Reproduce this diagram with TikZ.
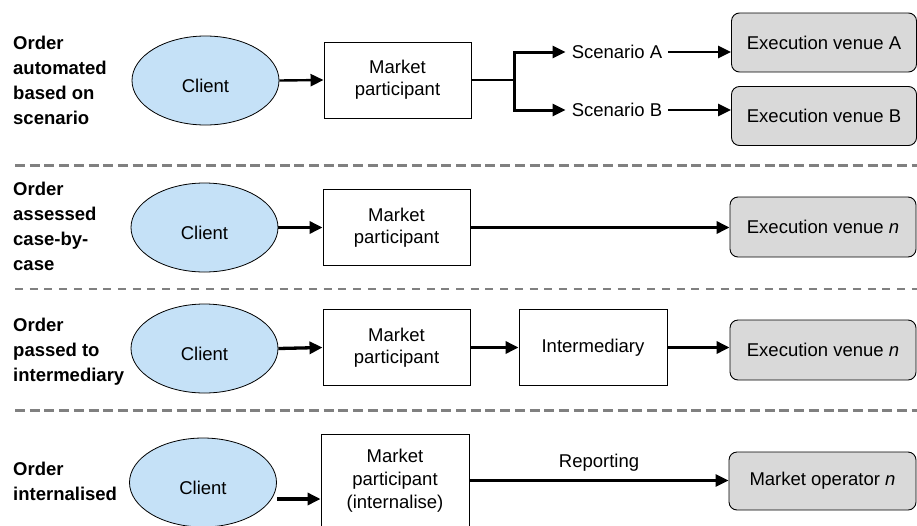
\documentclass[tikz,border=0pt]{standalone}
\usepackage{fontspec}
\setmainfont{Liberation Sans}
\usetikzlibrary{arrows.meta,shapes.geometric}
\definecolor{clientblue}{RGB}{197,225,247}
\definecolor{venuegray}{RGB}{217,217,217}
\definecolor{sepgray}{RGB}{128,128,128}
\begin{document}
\begin{tikzpicture}[x=1pt,y=-1pt,
  every node/.style={font=\fontsize{18.5}{22}\selectfont},
  client/.style={ellipse, draw, line width=0.8pt, fill=clientblue, minimum width=147pt, minimum height=89pt, inner sep=0pt, text height=25pt},
  mpbox/.style={draw, line width=0.9pt, fill=white, minimum width=147pt, minimum height=76pt, align=center, inner sep=0pt},
  venue/.style={draw, line width=0.9pt, fill=venuegray, rounded corners=8pt, minimum width=185pt, minimum height=59pt, inner sep=0pt},
  scen/.style={inner xsep=6pt, inner ysep=2pt},
  rowlabel/.style={anchor=west, align=left, font=\fontsize{18.5}{25}\selectfont\bfseries, inner sep=0pt},
  tip/.style={-{Triangle[length=13pt,width=12pt]}},
  conmid/.style={line width=2.4pt, tip},
  conthick/.style={line width=3.3pt, tip},
  septhick/.style={draw=sepgray, line width=3pt, dash pattern=on 10pt off 4.7pt},
  septhin/.style={draw=sepgray, line width=2pt, dash pattern=on 8pt off 6.7pt},
]
\useasboundingbox (0,0) rectangle (917,525);
\clip (0,0) rectangle (917,525);

% separators
\draw[septhick] (15,165) -- (917,165);
\draw[septhin] (15,288.5) -- (917,288.5);
\draw[septhick] (15,410) -- (917,410);

% row labels
\node[rowlabel] (l1) at (13,80.5) {Order\\automated\\based on\\scenario};
\node[rowlabel] (l2) at (13,226) {Order\\assessed\\case-by-\\case};
\node[rowlabel] (l3) at (13,352) {Order\\passed to\\intermediary};
\node[rowlabel] (l4) at (13,481.5) {Order\\internalised};

% row 1
\node[client] (c1) at (205.5,80.5) {Client};
\node[mpbox] (m1) at (397.5,80) {Market\\participant};
\coordinate (b1) at (514,80);
\node[scen] (sA) at (617,52) {Scenario A};
\node[scen] (sB) at (617,110) {Scenario B};
\node[venue] (vA) at (824,42.5) {Execution venue A};
\node[venue] (vB) at (824,116) {Execution venue B};
\draw[conmid] (c1.east) -- (m1.west);
\draw[line width=2.2pt] (m1.east) -- (b1);
\draw[line width=3pt, tip] (b1) |- (sA.west);
\draw[line width=3pt, tip] (b1) |- (sB.west);
\draw[conmid] (sA.east) -- (sA.east -| vA.west);
\draw[conmid] (sB.east) -- (sB.east -| vB.west);

% row 2
\node[client] (c2) at (204.5,227.5) {Client};
\node[mpbox] (m2) at (396.5,227.5) {Market\\participant};
\node[venue, minimum width=186pt, minimum height=60pt] (v2) at (823,227) {Execution venue \textit{n}};
\draw[conthick] (c2.east) -- (m2.west);
\draw[conthick] (m2.east) -- (m2.east -| v2.west);

% row 3
\node[client] (c3) at (204.5,348.5) {Client};
\node[mpbox] (m3) at (396.5,347.5) {Market\\participant};
\node[mpbox, minimum width=148pt] (i3) at (593,347.5) {Intermediary};
\node[venue, minimum width=186pt, minimum height=60pt] (v3) at (823,350) {Execution venue \textit{n}};
\draw[conthick] (c3.east) -- (m3.west);
\draw[conthick] (m3.east) -- (i3.west);
\draw[conthick] (i3.east) -- (i3.east -| v3.west);

% row 4
\node[client] (c4) at (203,482.5) {Client};
\node[mpbox, minimum width=148pt, minimum height=93pt, font=\fontsize{18.5}{23}\selectfont] (m4) at (395,480.5) {Market\\participant\\(internalise)};
\node[venue, minimum width=187pt, minimum height=58pt] (v4) at (822.5,481) {Market operator \textit{n}};
\coordinate (a4) at (277,499);
\draw[conthick] (a4) -- (a4 -| m4.west);
\draw[conmid] (m4.east) -- node[above, inner sep=0pt, yshift=8pt] (rep) {Reporting} (m4.east -| v4.west);
\end{tikzpicture}
\end{document}
